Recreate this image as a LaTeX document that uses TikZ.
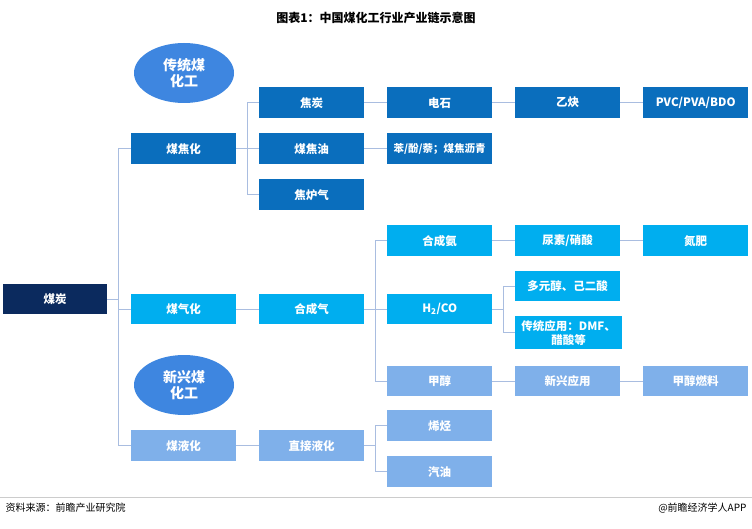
\documentclass[tikz,border=0pt]{standalone}
\usepackage{fontspec}
\setmainfont{Noto Sans CJK SC}
\usetikzlibrary{shapes.geometric}
\begin{document}
\begin{tikzpicture}[x=1pt,y=-1pt,
  bx/.style={minimum width=105pt,minimum height=31pt,inner sep=1pt,text=white,font=\fontsize{11.5}{13}\selectfont\bfseries,anchor=north west,align=center},
  dk/.style={bx,fill=c1},cy/.style={bx,fill=c2},lt/.style={bx,fill=c3},
  ln/.style={draw=lc,line width=0.8pt},
  el/.style={ellipse,fill=c4,minimum width=100pt,minimum height=60pt,text=white,font=\fontsize{14}{16}\selectfont\bfseries,align=center}]
\definecolor{c0}{HTML}{0B2A5E}\definecolor{c1}{HTML}{0A6EBD}\definecolor{c2}{HTML}{00AEEF}
\definecolor{c3}{HTML}{7FB0EA}\definecolor{c4}{HTML}{3E86E0}\definecolor{lc}{HTML}{A9BDE0}
\useasboundingbox (0,0) rectangle (752,529);
\fill[white] (0,0) rectangle (752,529);
\node[font=\fontsize{12}{14}\selectfont\bfseries] (t) at (376,18) {图表1：中国煤化工行业产业链示意图};
\node[bx,fill=c0,minimum width=104pt,minimum height=30pt] (mt) at (3,284) {煤炭};
\node[dk] (a1) at (131,133) {煤焦化};
\node[cy,minimum height=30pt] (a2) at (131,294) {煤气化};
\node[lt] (a3) at (131,430) {煤液化};
\node[dk] (b1) at (259,87) {焦炭};
\node[dk] (b2) at (259,133) {煤焦油};
\node[dk] (b3) at (259,179) {焦炉气};
\node[cy,minimum height=30pt] (b4) at (259,294) {合成气};
\node[lt] (b5) at (259,430) {直接液化};
\node[dk] (c1n) at (387,87) {电石};
\node[dk,font=\fontsize{10.5}{13}\selectfont\bfseries] (c2n) at (387,133) {苯/酚/萘；煤焦沥青};
\node[cy] (c3n) at (387,225) {合成氨};
\node[cy,minimum height=30pt] (c4n) at (387,294) {H\textsubscript{2}/CO};
\node[lt,minimum height=30pt] (c5n) at (387,366) {甲醇};
\node[lt] (c6n) at (387,410) {烯烃};
\node[lt] (c7n) at (387,456) {汽油};
\node[dk] (d1) at (515,87) {乙炔};
\node[cy] (d2) at (515,225) {尿素/硝酸};
\node[cy,minimum height=30pt] (d3) at (515,271) {多元醇、己二酸};
\node[cy,minimum width=107pt,minimum height=33pt,font=\fontsize{11.5}{14}\selectfont\bfseries] (d4) at (515,316) {传统应用：DMF、\\醋酸等};
\node[lt,minimum height=30pt] (d5) at (515,366) {新兴应用};
\node[dk] (e1) at (643,87) {PVC/PVA/BDO};
\node[cy] (e2) at (643,225) {氮肥};
\node[lt,minimum height=30pt] (e3) at (643,366) {甲醇燃料};
\node[el] (o1) at (184,73) {传统煤\\化工};
\node[el] (o2) at (184,385) {新兴煤\\化工};
% connectors
\draw[ln] (mt.east) -- ++(11,0) coordinate (k0);
\draw[ln] (a1.west) -| (k0) |- (a3.west);
\draw[ln] (k0 |- a2.west) -- (a2.west);
\draw[ln] (a1.east) -- ++(11,0) coordinate (k1);
\draw[ln] (b1.west) -| (k1) |- (b3.west);
\draw[ln] (k1) -- (b2.west);
\draw[ln] (b1) -- (c1n); \draw[ln] (c1n) -- (d1); \draw[ln] (d1) -- (e1);
\draw[ln] (b2) -- (c2n);
\draw[ln] (a2) -- (b4);
\draw[ln] (b4.east) -- ++(11,0) coordinate (k2);
\draw[ln] (c3n.west) -| (k2) |- (c5n.west);
\draw[ln] (k2) -- (c4n.west);
\draw[ln] (c3n) -- (d2); \draw[ln] (d2) -- (e2);
\draw[ln] (c5n) -- (d5); \draw[ln] (d5) -- (e3);
\draw[ln] (c4n.east) -- ++(11,0) coordinate (k3);
\draw[ln] (d3.west) -| (k3) |- (d4.west);
\draw[ln] (a3) -- (b5);
\draw[ln] (b5.east) -- ++(11,0) coordinate (k4);
\draw[ln] (c6n.west) -| (k4) |- (c7n.west);
\draw[gray!40] (0,497) -- (752,497);
\node[anchor=west,font=\fontsize{10}{12}\selectfont] (s1) at (2,508) {资料来源：前瞻产业研究院};
\node[anchor=east,font=\fontsize{10}{12}\selectfont] (s2) at (750,508) {@前瞻经济学人APP};
\end{tikzpicture}
\end{document}
